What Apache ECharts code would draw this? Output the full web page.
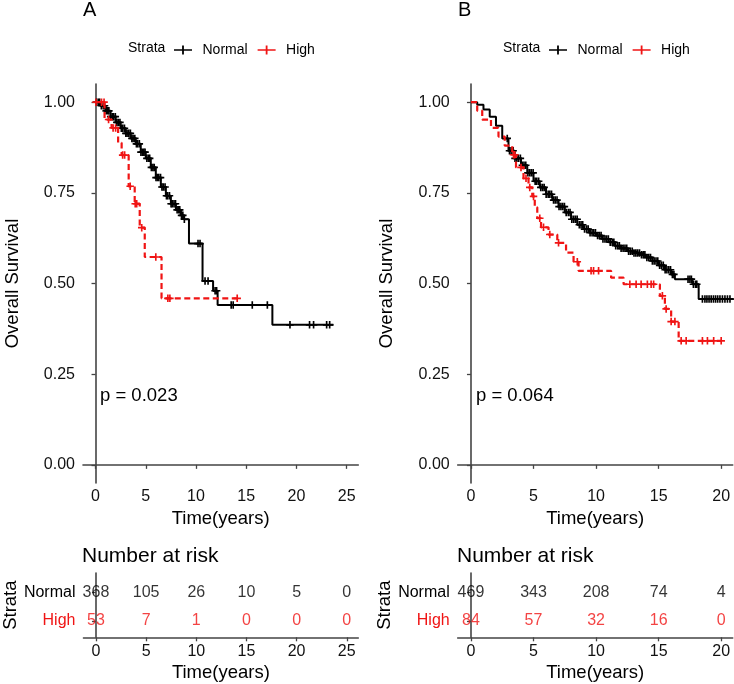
<!DOCTYPE html>
<html><head><meta charset="utf-8">
<script src="https://cdn.jsdelivr.net/npm/echarts@6/dist/echarts.min.js"></script>
<style>html,body{margin:0;padding:0;background:#fff}#c{width:734px;height:684px}</style>
</head><body><div id="c"></div>
<script>
const FONT = '"Liberation Sans", Arial, sans-serif';
const RED = '#f01414';
const AXC = '#444444';

const timeTicksA = [0, 5, 10, 15, 20, 25];
const timeTicksB = [0, 5, 10, 15, 20];
const survTicks = [0, 0.25, 0.5, 0.75, 1];
const strataNames = ['Normal', 'High'];

// ---- Panel A: Kaplan-Meier step points (time, survival) ----
const normalA_time = [0, 0.5, 1.0, 1.5, 2.0, 2.5, 3.0, 3.5, 4.0, 4.5, 5.0, 5.5, 6.0, 6.5, 7.0, 7.5, 8.0, 8.5, 8.8, 9.3, 10.65, 11.7, 12.15, 17.6];
const normalA_surv = [1.0, 0.99, 0.976, 0.96, 0.944, 0.928, 0.914, 0.9, 0.885, 0.862, 0.845, 0.82, 0.792, 0.766, 0.742, 0.72, 0.703, 0.688, 0.677, 0.61, 0.507, 0.48, 0.441, 0.386];
const normalA_end = 23.67;
const normalA_censor = [0.12, 0.3, 0.41, 0.58, 0.77, 0.9, 1.06, 1.22, 1.33, 1.51, 1.68, 1.79, 1.97, 2.12, 2.26, 2.43, 2.57, 2.71, 2.88, 3.02, 3.14, 3.31, 3.47, 3.62, 3.74, 3.91, 4.07, 4.19, 4.36, 4.52, 4.66, 4.81, 4.93, 5.11, 5.27, 5.39, 5.56, 5.71, 5.84, 6.02, 6.16, 6.29, 6.47, 6.61, 6.74, 6.92, 7.06, 7.18, 7.36, 7.52, 7.63, 7.81, 7.96, 8.12, 8.27, 8.38, 8.56, 8.69, 8.84, 10.2, 10.4, 10.9, 11.2, 11.9, 12.05, 13.5, 13.7, 15.6, 17.1, 19.35, 21.3, 21.7, 23.0, 23.3];

const highA_time = [0, 0.9, 1.6, 2.25, 2.6, 3.3, 3.9, 4.4, 4.9, 6.57];
const highA_surv = [1.0, 0.952, 0.929, 0.888, 0.854, 0.768, 0.72, 0.654, 0.573, 0.459];
const highA_end = 14.1;
const highA_censor = [0.05, 0.6, 0.85, 1.3, 1.75, 2.0, 2.7, 2.9, 3.45, 3.95, 4.1, 4.6, 6.0, 7.2, 7.4, 14.1];

// ---- Panel B ----
const normalB_time = [0, 0.5, 1.0, 1.5, 2.0, 2.5, 3.0, 3.5, 4.0, 4.5, 5.0, 5.5, 6.0, 6.5, 7.0, 7.5, 8.0, 8.5, 9.0, 9.5, 10.0, 10.5, 11.0, 11.5, 12.0, 12.5, 13.0, 13.5, 14.0, 14.5, 15.0, 15.5, 16.0, 16.3, 17.7, 18.2];
const normalB_surv = [1.0, 0.993, 0.98, 0.96, 0.935, 0.9, 0.866, 0.845, 0.826, 0.805, 0.782, 0.765, 0.746, 0.73, 0.712, 0.696, 0.677, 0.662, 0.65, 0.64, 0.632, 0.623, 0.614, 0.604, 0.597, 0.589, 0.584, 0.579, 0.572, 0.562, 0.55, 0.538, 0.525, 0.512, 0.498, 0.457];
const normalB_end = 21.0;
const normalB_censor = [2.9, 3.08, 3.21, 3.37, 3.52, 3.66, 3.79, 3.95, 4.11, 4.24, 4.38, 4.55, 4.69, 4.82, 4.97, 5.13, 5.26, 5.41, 5.58, 5.72, 5.85, 6.01, 6.17, 6.3, 6.44, 6.6, 6.73, 6.88, 7.04, 7.19, 7.33, 7.47, 7.61, 7.78, 7.92, 8.06, 8.21, 8.35, 8.49, 8.66, 8.8, 8.93, 9.08, 9.24, 9.37, 9.52, 9.68, 9.81, 9.95, 10.12, 10.26, 10.4, 10.55, 10.71, 10.84, 10.98, 11.13, 11.29, 11.42, 11.57, 11.73, 11.86, 12.0, 12.16, 12.31, 12.45, 12.6, 12.74, 12.89, 13.03, 13.18, 13.32, 13.47, 13.63, 13.77, 13.9, 14.06, 14.21, 14.35, 14.5, 14.64, 14.79, 14.93, 15.08, 15.22, 15.37, 15.52, 15.66, 15.81, 15.95, 16.1, 16.22, 17.35, 17.5, 17.62, 17.78, 17.95, 18.05, 18.5, 18.7, 18.86, 19.03, 19.2, 19.38, 19.55, 19.72, 19.9, 20.1, 20.3, 20.5, 20.7];

const highB_time = [0, 0.5, 0.9, 1.6, 2.2, 2.7, 3.3, 3.6, 4.2, 4.6, 4.9, 5.1, 5.3, 5.6, 6.2, 6.9, 7.6, 8.2, 8.6, 11.2, 12.2, 15.1, 15.5, 16.0, 16.6];
const highB_surv = [1.0, 0.976, 0.952, 0.929, 0.905, 0.88, 0.855, 0.82, 0.79, 0.765, 0.74, 0.71, 0.68, 0.655, 0.635, 0.612, 0.585, 0.56, 0.535, 0.516, 0.498, 0.466, 0.43, 0.395, 0.342];
const highB_end = 20.0;
const highB_censor = [3.4, 3.5, 4.0, 4.4, 4.7, 5.0, 5.5, 5.8, 6.3, 7.0, 8.5, 9.6, 9.8, 10.2, 12.7, 13.2, 13.6, 14.1, 14.4, 14.6, 15.3, 15.6, 16.0, 16.3, 16.8, 17.2, 18.5, 18.9, 19.4, 20.0];

// ---- Number at risk ----
const riskA_normal = [368, 105, 26, 10, 5, 0];
const riskA_high = [53, 7, 1, 0, 0, 0];
const riskB_normal = [469, 343, 208, 74, 4];
const riskB_high = [84, 57, 32, 16, 0];

const pvalA = 'p = 0.023';
const pvalB = 'p = 0.064';

// ---- helpers ----
function steps(times, surv, end) {
  const d = times.map((t, i) => [t, surv[i]]);
  d.push([end, surv[surv.length - 1]]);
  return d;
}
function survAt(times, surv, t) {
  let s = surv[0];
  for (let i = 0; i < times.length; i++) { if (times[i] <= t) s = surv[i]; }
  return s;
}
function censorData(times, surv, cens) { return cens.map(t => [t, survAt(times, surv, t)]); }
function riskData(ticks, vals, row) { return ticks.map((t, i) => [t, row, vals[i]]); }

const PLUS = 'path://M-1.1,-5 H1.1 V5 H-1.1 Z M-5,-1.1 H5 V1.1 H-5 Z';
const LEGICON = 'path://M0,4.1 H20 V5.9 H0 Z M9,0 H11 V10 H9 Z';

const axisLineStyle = { show: true, lineStyle: { color: AXC, width: 1.6 } };
const tickStyle = (vals) => ({ show: true, length: 4, customValues: vals, lineStyle: { color: AXC, width: 1.3 } });

function xAxisCfg(grid, min, max, ticks) {
  return {
    type: 'value', gridIndex: grid, min: min, max: max,
    axisLine: axisLineStyle, axisTick: tickStyle(ticks),
    axisLabel: { customValues: ticks, color: '#111', fontSize: 16, fontFamily: FONT, margin: 6 },
    splitLine: { show: false },
    name: 'Time(years)', nameLocation: 'middle', nameGap: 26,
    nameTextStyle: { color: '#000', fontSize: 18.5, fontFamily: FONT }
  };
}
function ySurvCfg(grid) {
  return {
    type: 'value', gridIndex: grid, min: -0.05, max: 1.05,
    axisLine: axisLineStyle, axisTick: tickStyle(survTicks),
    axisLabel: { customValues: survTicks, formatter: v => v.toFixed(2), color: '#111', fontSize: 16, fontFamily: FONT, margin: 8 },
    splitLine: { show: false },
    name: 'Overall Survival', nameLocation: 'middle', nameGap: 61,
    nameTextStyle: { color: '#000', fontSize: 18.5, fontFamily: FONT }
  };
}
function yRiskCfg(grid) {
  return {
    type: 'value', gridIndex: grid, min: 0.43, max: 2.67,
    axisLine: axisLineStyle, axisTick: tickStyle([1, 2]),
    axisLabel: {
      customValues: [1, 2], margin: 8, fontSize: 16, fontFamily: FONT,
      formatter: v => v === 2 ? '{n|' + strataNames[0] + '}' : '{h|' + strataNames[1] + '}',
      rich: { n: { color: '#000', fontSize: 16, fontFamily: FONT }, h: { color: RED, fontSize: 16, fontFamily: FONT } }
    },
    splitLine: { show: false },
    name: 'Strata', nameLocation: 'middle', nameGap: 60,
    nameTextStyle: { color: '#000', fontSize: 18.5, fontFamily: FONT }
  };
}

function kmSeries(xi, time, surv, end, cens, name, color, dashed) {
  return [
    { type: 'line', name: name, xAxisIndex: xi, yAxisIndex: xi, step: 'end', showSymbol: false, symbol: 'none',
      data: steps(time, surv, end), color: color, clip: true,
      lineStyle: { color: color, width: dashed ? 2.2 : 2, type: dashed ? [6, 3.5] : 'solid' }, z: dashed ? 4 : 3 },
    { type: 'scatter', name: name, xAxisIndex: xi, yAxisIndex: xi, symbol: PLUS, symbolSize: 7.5,
      data: censorData(time, surv, cens), itemStyle: { color: color, opacity: 1 }, z: dashed ? 5 : 3 }
  ];
}
function riskSeries(xi, ticks, vals, row, color) {
  return {
    type: 'scatter', xAxisIndex: xi, yAxisIndex: xi, symbolSize: 0, data: riskData(ticks, vals, row),
    label: { show: true, position: 'inside', formatter: p => String(p.value[2]), color: color, fontSize: 16, fontFamily: FONT },
    itemStyle: { color: color }, silent: true
  };
}

const titleText = (size) => ({ fontSize: size, fontWeight: 'normal', color: '#000', fontFamily: FONT });
const legendCfg = (left) => ({
  left: left, top: 43, padding: 0, itemWidth: 19, itemHeight: 9, itemGap: 10, selectedMode: false,
  textStyle: { fontSize: 14, color: '#000', fontFamily: FONT, padding: [0, 0, 0, 5] },
  data: [{ name: 'Normal', icon: LEGICON }, { name: 'High', icon: LEGICON }]
});

const chart = echarts.init(document.getElementById('c'), null, { renderer: 'canvas' });
chart.setOption({
  animation: false,
  backgroundColor: '#fff',
  textStyle: { fontFamily: FONT },
  title: [
    { text: 'A', left: 83, top: 0, padding: 0, textStyle: titleText(20) },
    { text: 'B', left: 458, top: 0, padding: 0, textStyle: titleText(20) },
    { text: 'Number at risk', left: 82, top: 546, padding: 0, textStyle: titleText(21) },
    { text: 'Number at risk', left: 457, top: 546, padding: 0, textStyle: titleText(21) }
  ],
  legend: [legendCfg(174), legendCfg(549)],
  graphic: [
    { type: 'text', left: 128, top: 41, style: { text: 'Strata', fontSize: 14, fill: '#000', fontFamily: FONT } },
    { type: 'text', left: 503, top: 41, style: { text: 'Strata', fontSize: 14, fill: '#000', fontFamily: FONT } },
    { type: 'text', left: 100, top: 386, style: { text: pvalA, fontSize: 18.5, fill: '#000', fontFamily: FONT } },
    { type: 'text', left: 476, top: 386, style: { text: pvalB, fontSize: 18.5, fill: '#000', fontFamily: FONT } }
  ],
  grid: [
    { left: 83, top: 84, width: 275.3, height: 399 },
    { left: 457.7, top: 84, width: 275, height: 399 },
    { left: 83, top: 573, width: 275.3, height: 64.3 },
    { left: 457.7, top: 573, width: 275, height: 64.3 }
  ],
  xAxis: [
    xAxisCfg(0, -1.245, 26.15, timeTicksA),
    xAxisCfg(1, -1.06, 20.92, timeTicksB),
    xAxisCfg(2, -1.245, 26.15, timeTicksA),
    xAxisCfg(3, -1.06, 20.92, timeTicksB)
  ],
  yAxis: [ySurvCfg(0), ySurvCfg(1), yRiskCfg(2), yRiskCfg(3)],
  series: [].concat(
    kmSeries(0, normalA_time, normalA_surv, normalA_end, normalA_censor, 'Normal', '#000', false),
    kmSeries(0, highA_time, highA_surv, highA_end, highA_censor, 'High', RED, true),
    kmSeries(1, normalB_time, normalB_surv, normalB_end, normalB_censor, 'Normal', '#000', false),
    kmSeries(1, highB_time, highB_surv, highB_end, highB_censor, 'High', RED, true),
    [
      riskSeries(2, timeTicksA, riskA_normal, 2, '#000'),
      riskSeries(2, timeTicksA, riskA_high, 1, RED),
      riskSeries(3, timeTicksB, riskB_normal, 2, '#000'),
      riskSeries(3, timeTicksB, riskB_high, 1, RED)
    ]
  )
});
</script></body></html>
